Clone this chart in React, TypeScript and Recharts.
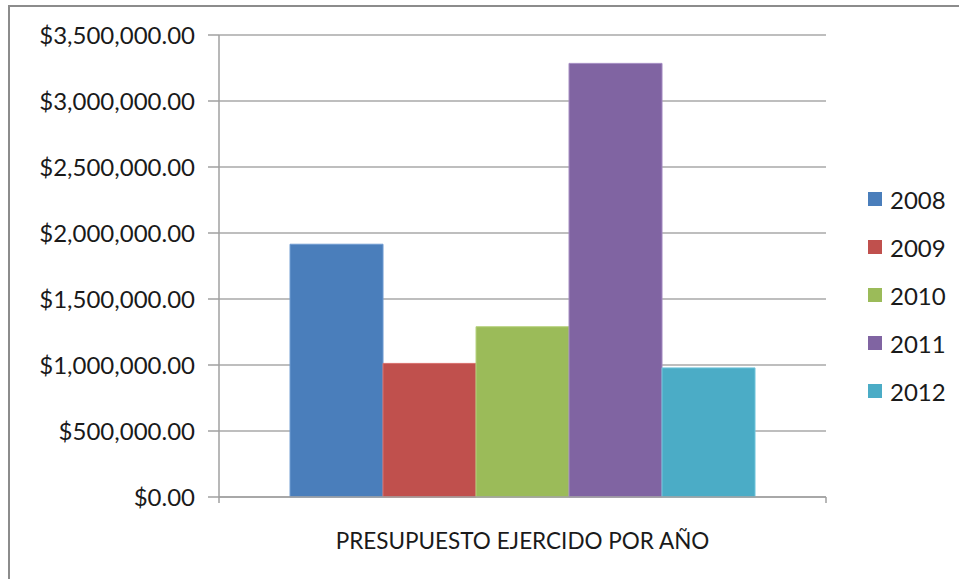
import React from "react";
import { BarChart, Bar, XAxis, YAxis, CartesianGrid, Legend } from "recharts";

const categories = ["PRESUPUESTO EJERCIDO POR AÑO"];
const years = ["2008", "2009", "2010", "2011", "2012"];
const values = [1915000, 1012000, 1290000, 3285000, 978000];
const colors = ["#4A7EBB", "#C0504D", "#9BBB59", "#8064A2", "#4BACC6"];
const strokes = ["#6F9BD1", "#D9706C", "#B5D17C", "#A48BC2", "#72C6DC"];
const yTicks = [0, 500000, 1000000, 1500000, 2000000, 2500000, 3000000, 3500000];

const data = categories.map((name) => {
  const row: Record<string, string | number> = { name };
  years.forEach((y, i) => {
    row[y] = values[i];
  });
  return row;
});

const FONT = "Lato, 'Open Sans', sans-serif";
const TEXT = "#1a1a1a";
const AXIS = "#a0a0a0";

const fmt = (v: number) =>
  "$" + v.toLocaleString("en-US", { minimumFractionDigits: 2, maximumFractionDigits: 2 });

const XTick = (props: any) => {
  const { x, y, payload, width } = props;
  const half = width / 2;
  return (
    <g>
      <line x1={x - half} y1={y - 8} x2={x - half} y2={y - 2} stroke={AXIS} strokeWidth={1.5} />
      <line x1={x + half} y1={y - 8} x2={x + half} y2={y - 2} stroke={AXIS} strokeWidth={1.5} />
      <text x={x} y={y + 44} textAnchor="middle" fill={TEXT} fontSize={22.5} fontFamily={FONT}>
        {payload.value}
      </text>
    </g>
  );
};

const LegendContent = () => (
  <div style={{ fontFamily: FONT, fontSize: 24, color: TEXT }}>
    {years.map((y, i) => (
      <div key={y} style={{ display: "flex", alignItems: "center", height: 48 }}>
        <div style={{ width: 14, height: 14, background: colors[i], marginRight: 8 }} />
        <span>{y}</span>
      </div>
    ))}
  </div>
);

export default function App() {
  return (
    <div style={{ position: "relative", width: 959, height: 579, background: "#fff", overflow: "hidden" }}>
      <style>{"body{margin:0;overflow:hidden;background:#fff}"}</style>
      <div
        style={{
          position: "absolute",
          left: 8,
          top: 5,
          width: 1000,
          height: 700,
          border: "2px solid #8c8c8c",
          boxSizing: "border-box",
        }}
      />
      <div style={{ position: "absolute", left: 0, top: 0 }}>
        <BarChart
          width={959}
          height={579}
          data={data}
          margin={{ top: 35, right: 133, bottom: 52, left: 0 }}
          barCategoryGap="11.7%"
          barGap={0}
        >
          <CartesianGrid horizontal vertical={false} stroke="#a8a8a8" strokeWidth={1.5} />
          <XAxis
            dataKey="name"
            height={30}
            axisLine={{ stroke: AXIS, strokeWidth: 1.5 }}
            tickLine={false}
            tick={<XTick />}
            interval={0}
          />
          <YAxis
            width={219}
            domain={[0, 3500000]}
            ticks={yTicks}
            tickFormatter={fmt}
            axisLine={{ stroke: AXIS, strokeWidth: 1.5 }}
            tickLine={{ stroke: AXIS, strokeWidth: 1.5 }}
            tickSize={11}
            tickMargin={13}
            tick={{ fill: TEXT, fontSize: 24, fontFamily: FONT }}
          />
          <Legend
            layout="horizontal"
            verticalAlign="middle"
            content={<LegendContent />}
            wrapperStyle={{ left: 868, top: 175, width: 90 }}
          />
          {years.map((y, i) => (
            <Bar
              key={y}
              dataKey={y}
              fill={colors[i]}
              stroke={strokes[i]}
              strokeWidth={1}
              isAnimationActive={false}
            />
          ))}
        </BarChart>
      </div>
    </div>
  );
}
